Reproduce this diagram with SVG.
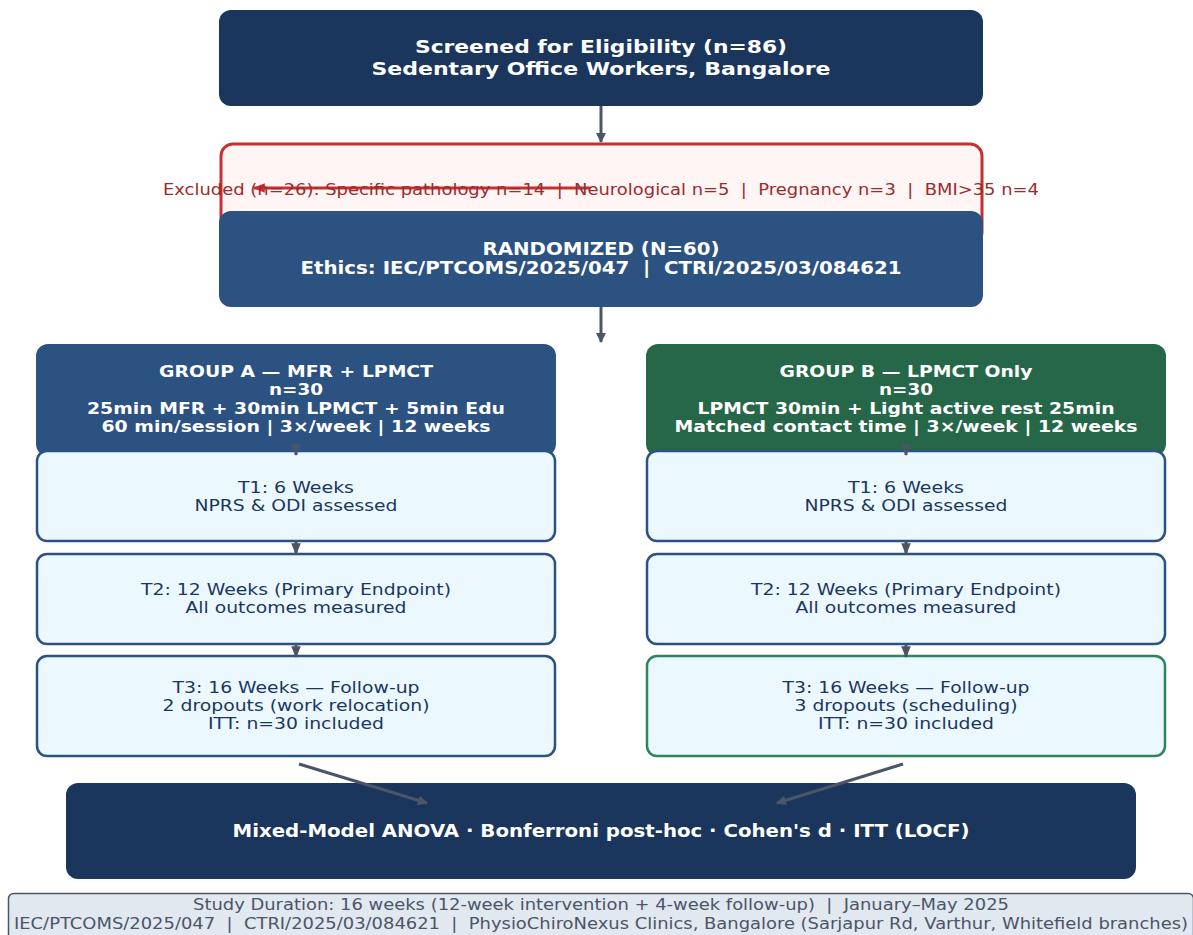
<svg xmlns="http://www.w3.org/2000/svg" width="1193" height="935" viewBox="0 0 1193 935">
<defs>
<marker id="ah" viewBox="0 0 10 10" refX="9" refY="5" markerWidth="10" markerHeight="10" markerUnits="userSpaceOnUse" orient="auto"><path d="M0,0 L10,5 L0,10 z" fill="#4a5568"/></marker>
<marker id="ahs" viewBox="0 0 10 10" refX="9" refY="5" markerWidth="12" markerHeight="12" markerUnits="userSpaceOnUse" orient="auto"><path d="M0,1 L10,5 L0,9 z" fill="#4a5568"/></marker>
<marker id="ahr" viewBox="0 0 10 10" refX="9" refY="5" markerWidth="12" markerHeight="12" markerUnits="userSpaceOnUse" orient="auto"><path d="M0,1 L10,5 L0,9 z" fill="#c53030"/></marker>
</defs>
<style>
text{font-family:"DejaVu Sans","Liberation Sans",sans-serif;text-anchor:middle}
.b{font-weight:bold;fill:#ffffff}
.t{font-size:16.5px;fill:#1a365d}
.tb{fill:#ebf8ff;stroke:#2c5282;stroke-width:2.5}
.con{stroke:#4a5568;stroke-width:3;fill:none}
</style>
<rect width="1193" height="935" fill="#ffffff"/>

<g id="screened">
<rect x="219" y="10" width="764" height="96" rx="12" fill="#1b365d"/>
<text class="b" x="601" y="53" font-size="18" textLength="372" lengthAdjust="spacingAndGlyphs">Screened for Eligibility (n=86)</text>
<text class="b" x="601" y="75" font-size="18" textLength="459" lengthAdjust="spacingAndGlyphs">Sedentary Office Workers, Bangalore</text>
</g>

<g id="excluded">
<rect x="221" y="144" width="761" height="100" rx="12" fill="#fff5f5" stroke="#c53030" stroke-width="3"/>
</g>

<g id="randomized">
<rect x="219" y="211" width="764" height="96" rx="12" fill="#2c5282"/>
<text class="b" x="601" y="255" font-size="17" textLength="237" lengthAdjust="spacingAndGlyphs">RANDOMIZED (N=60)</text>
<text class="b" x="601" y="273.5" font-size="17" textLength="601" lengthAdjust="spacingAndGlyphs" xml:space="preserve">Ethics: IEC/PTCOMS/2025/047  |  CTRI/2025/03/084621</text>
</g>

<g id="groupA">
<rect x="36" y="344" width="520" height="112" rx="12" fill="#2c5282"/>
<text class="b" x="296" y="377" font-size="16.5" textLength="274" lengthAdjust="spacingAndGlyphs">GROUP A — MFR + LPMCT</text>
<text class="b" x="296" y="395" font-size="16.5" textLength="54" lengthAdjust="spacingAndGlyphs">n=30</text>
<text class="b" x="296" y="413.5" font-size="16.5" textLength="418" lengthAdjust="spacingAndGlyphs">25min MFR + 30min LPMCT + 5min Edu</text>
<text class="b" x="296" y="432" font-size="16.5" textLength="389" lengthAdjust="spacingAndGlyphs">60 min/session | 3×/week | 12 weeks</text>
</g>

<g id="groupB">
<rect x="646" y="344" width="520" height="112" rx="12" fill="#276749"/>
<text class="b" x="906" y="377" font-size="16.5" textLength="253" lengthAdjust="spacingAndGlyphs">GROUP B — LPMCT Only</text>
<text class="b" x="906" y="395" font-size="16.5" textLength="54" lengthAdjust="spacingAndGlyphs">n=30</text>
<text class="b" x="906" y="413.5" font-size="16.5" textLength="417" lengthAdjust="spacingAndGlyphs">LPMCT 30min + Light active rest 25min</text>
<text class="b" x="906" y="432" font-size="16.5" textLength="463" lengthAdjust="spacingAndGlyphs">Matched contact time | 3×/week | 12 weeks</text>
</g>

<g id="a_t1">
<rect class="tb" x="37" y="451" width="518" height="90" rx="10"/>
<text class="t" x="296" y="492.5" textLength="116" lengthAdjust="spacingAndGlyphs">T1: 6 Weeks</text>
<text class="t" x="296" y="510.5" textLength="203" lengthAdjust="spacingAndGlyphs">NPRS &amp; ODI assessed</text>
</g>
<g id="a_t2">
<rect class="tb" x="37" y="554" width="518" height="90" rx="10"/>
<text class="t" x="296" y="595" textLength="310" lengthAdjust="spacingAndGlyphs">T2: 12 Weeks (Primary Endpoint)</text>
<text class="t" x="296" y="613" textLength="221" lengthAdjust="spacingAndGlyphs">All outcomes measured</text>
</g>
<g id="a_t3">
<rect class="tb" x="37" y="656" width="518" height="100" rx="10"/>
<text class="t" x="296" y="692.5" textLength="247" lengthAdjust="spacingAndGlyphs">T3: 16 Weeks — Follow-up</text>
<text class="t" x="296" y="710.5" textLength="267" lengthAdjust="spacingAndGlyphs">2 dropouts (work relocation)</text>
<text class="t" x="296" y="729" textLength="176" lengthAdjust="spacingAndGlyphs">ITT: n=30 included</text>
</g>

<g id="b_t1">
<rect class="tb" x="647" y="451" width="518" height="90" rx="10"/>
<text class="t" x="906" y="492.5" textLength="116" lengthAdjust="spacingAndGlyphs">T1: 6 Weeks</text>
<text class="t" x="906" y="510.5" textLength="203" lengthAdjust="spacingAndGlyphs">NPRS &amp; ODI assessed</text>
</g>
<g id="b_t2">
<rect class="tb" x="647" y="554" width="518" height="90" rx="10"/>
<text class="t" x="906" y="595" textLength="310" lengthAdjust="spacingAndGlyphs">T2: 12 Weeks (Primary Endpoint)</text>
<text class="t" x="906" y="613" textLength="221" lengthAdjust="spacingAndGlyphs">All outcomes measured</text>
</g>
<g id="b_t3">
<rect class="tb" x="647" y="656" width="518" height="100" rx="10" style="stroke:#2f855a"/>
<text class="t" x="906" y="692.5" textLength="247" lengthAdjust="spacingAndGlyphs">T3: 16 Weeks — Follow-up</text>
<text class="t" x="906" y="710.5" textLength="223" lengthAdjust="spacingAndGlyphs">3 dropouts (scheduling)</text>
<text class="t" x="906" y="729" textLength="176" lengthAdjust="spacingAndGlyphs">ITT: n=30 included</text>
</g>

<g id="analysis">
<rect x="66" y="783" width="1070" height="96" rx="12" fill="#1a365d"/>
<text class="b" x="601" y="837" font-size="17" textLength="737" lengthAdjust="spacingAndGlyphs">Mixed-Model ANOVA · Bonferroni post-hoc · Cohen's d · ITT (LOCF)</text>
</g>

<g id="footer">
<rect x="8.5" y="893.5" width="1185" height="50" rx="5" fill="#e2e8f0" stroke="#4a5568" stroke-width="1.5"/>
<text x="601" y="910" font-size="15" fill="#4a5568" textLength="816" lengthAdjust="spacingAndGlyphs" xml:space="preserve">Study Duration: 16 weeks (12-week intervention + 4-week follow-up)  |  January–May 2025</text>
<text x="601" y="929" font-size="15" fill="#4a5568" textLength="1174" lengthAdjust="spacingAndGlyphs" xml:space="preserve">IEC/PTCOMS/2025/047  |  CTRI/2025/03/084621  |  PhysioChiroNexus Clinics, Bangalore (Sarjapur Rd, Varthur, Whitefield branches)</text>
</g>

<g id="connectors">
<line class="con" x1="601" y1="106" x2="601" y2="142" marker-end="url(#ah)"/>
<line x1="590" y1="188" x2="254" y2="188" stroke="#c53030" stroke-width="3" marker-end="url(#ahr)"/>
<line class="con" x1="601" y1="307" x2="601" y2="342" marker-end="url(#ah)"/>
<line class="con" x1="296" y1="444" x2="296" y2="455" marker-end="url(#ahs)"/>
<line class="con" x1="906" y1="444" x2="906" y2="455" marker-end="url(#ahs)"/>
<line class="con" x1="296" y1="541" x2="296" y2="554" marker-end="url(#ahs)"/>
<line class="con" x1="906" y1="541" x2="906" y2="554" marker-end="url(#ahs)"/>
<line class="con" x1="296" y1="644" x2="296" y2="657" marker-end="url(#ahs)"/>
<line class="con" x1="906" y1="644" x2="906" y2="657" marker-end="url(#ahs)"/>
<line class="con" x1="299" y1="764" x2="427" y2="803" marker-end="url(#ah)"/>
<line class="con" x1="903" y1="764" x2="777" y2="803" marker-end="url(#ah)"/>
</g>

<text x="601" y="195" font-size="15.5" fill="#9b2c2c" textLength="876" lengthAdjust="spacingAndGlyphs" xml:space="preserve">Excluded (n=26): Specific pathology n=14  |  Neurological n=5  |  Pregnancy n=3  |  BMI&gt;35 n=4</text>
</svg>
